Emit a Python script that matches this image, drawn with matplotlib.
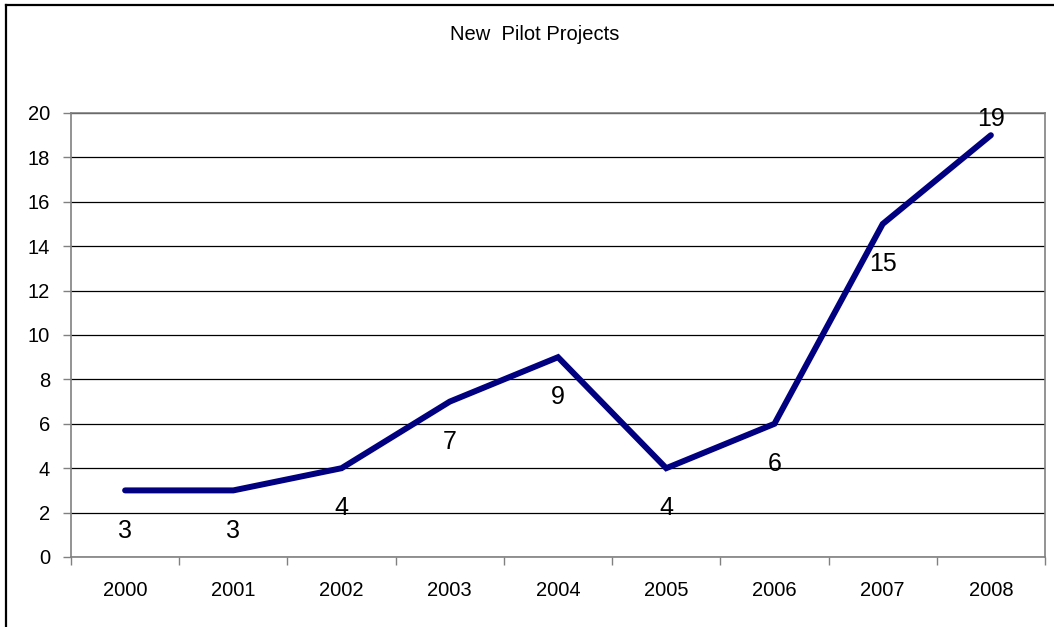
import matplotlib
matplotlib.use("Agg")
import matplotlib.pyplot as plt
from matplotlib.lines import Line2D

years = ["2000", "2001", "2002", "2003", "2004", "2005", "2006", "2007", "2008"]
projects = [3, 3, 4, 7, 9, 4, 6, 15, 19]
title = "New  Pilot Projects"

plt.rcParams['font.family'] = ['Liberation Sans', 'DejaVu Sans']

fig = plt.figure(figsize=(10.54, 6.27), dpi=100)
ax = fig.add_axes([71/1054, 70/627, 974/1054, 444/627])

x = list(range(len(years)))
ax.plot(x, projects, color='#000080', linewidth=4.3, solid_joinstyle='miter',
        solid_capstyle='round', zorder=3)

# data labels (below points, last above)
for i, v in enumerate(projects):
    if i == len(projects) - 1:
        off = 12
    else:
        off = -29
    ax.annotate(str(v), (i, v), xytext=(0, off), textcoords='offset points',
                ha='center', va='center', fontsize=18, color='black', zorder=4)

ax.set_xlim(-0.5, len(years) - 0.5)
ax.set_ylim(0, 20)
ax.set_yticks(range(0, 21, 2))
ax.yaxis.grid(True, color='black', linewidth=0.9)
ax.set_axisbelow(True)

ax.set_xticks([i - 0.5 for i in range(len(years) + 1)])
ax.set_xticklabels([])
ax.set_xticks(x, minor=True)
ax.set_xticklabels(years, minor=True)
ax.tick_params(axis='x', which='major', length=6, width=1, color='#808080', direction='out')
ax.tick_params(axis='x', which='minor', length=0, pad=17, labelsize=14.5)
ax.tick_params(axis='y', length=6, width=1, color='#808080', pad=9, labelsize=14.5)

for s in ax.spines.values():
    s.set_color('#808080')
    s.set_linewidth(1.2)

fig.text(535/1054, 1 - 35/627, title, ha='center', va='center', fontsize=14.5)

# figure border (left and top)
fig.add_artist(Line2D([6/1054, 6/1054], [0, 1 - 5/627], color='black', linewidth=1.6,
                      transform=fig.transFigure))
fig.add_artist(Line2D([6/1054, 1], [1 - 5/627, 1 - 5/627], color='black', linewidth=1.6,
                      transform=fig.transFigure))

fig.savefig("out.png", dpi=100)
